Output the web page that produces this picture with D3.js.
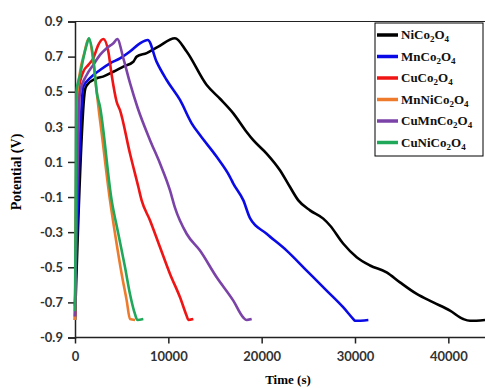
<!DOCTYPE html>
<html>
<head>
<meta charset="utf-8">
<style>
body { margin: 0; background: #fff; }
</style>
</head>
<body></body>
<script src="https://d3js.org/d3.v7.min.js"></script>
<script>

// [time (s), potential (V)]
var niCo2O4 = [[0,-0.80],[1070,0.51],[1250,0.535],[2320,0.577],[3000,0.586],[4110,0.614],[5180,0.643],[6250,0.671],[6610,0.70],[7680,0.72],[8930,0.757],[10710,0.805],[11960,0.729],[14110,0.538],[15540,0.46],[16960,0.377],[18390,0.271],[19100,0.224],[20530,0.148],[21960,0.053],[23040,-0.043],[23930,-0.119],[25180,-0.176],[26600,-0.223],[27320,-0.262],[28750,-0.366],[30180,-0.443],[31610,-0.49],[33390,-0.529],[34820,-0.586],[36610,-0.652],[38390,-0.70],[40180,-0.747],[41600,-0.795],[42320,-0.805],[43930,-0.80]];
var mnCo2O4 = [[0,-0.72],[890,0.529],[1600,0.577],[2680,0.624],[3750,0.662],[4820,0.69],[5890,0.729],[6960,0.776],[7800,0.795],[8750,0.67],[9820,0.567],[11250,0.453],[12500,0.32],[13390,0.253],[15180,0.129],[16610,0.014],[16960,-0.023],[18040,-0.119],[18750,-0.22],[20530,-0.309],[22680,-0.405],[24820,-0.519],[26960,-0.633],[28750,-0.729],[29820,-0.795],[30000,-0.805],[31430,-0.80]];
var cuCo2O4 = [[0,-0.78],[360,0.5],[890,0.614],[1430,0.653],[1960,0.69],[2500,0.767],[3040,0.80],[3570,0.729],[3930,0.595],[4460,0.443],[4820,0.395],[5890,0.148],[6790,-0.043],[7140,-0.119],[8040,-0.233],[9110,-0.386],[10180,-0.538],[11250,-0.671],[11960,-0.776],[12140,-0.80],[12680,-0.795]];
var mnNiCo2O4 = [[0,-0.80],[200,0.45],[500,0.6],[1000,0.72],[1430,0.80],[2680,0.338],[3750,-0.119],[4290,-0.309],[5000,-0.538],[5540,-0.69],[5890,-0.795],[6430,-0.80]];
var cuMnCo2O4 = [[0,-0.78],[540,0.5],[1250,0.595],[1960,0.653],[2680,0.71],[3390,0.748],[4110,0.776],[4530,0.80],[5180,0.69],[5890,0.55],[6700,0.41],[8040,0.224],[9110,0.091],[10180,-0.062],[10710,-0.16],[11960,-0.309],[13390,-0.405],[15180,-0.557],[16960,-0.69],[18030,-0.786],[18390,-0.80],[18930,-0.795]];
var cuNiCo2O4 = [[0,-0.75],[150,0.5],[540,0.595],[890,0.69],[1250,0.767],[1500,0.805],[1960,0.69],[2320,0.5],[2680,0.414],[3930,-0.119],[4640,-0.309],[5360,-0.5],[5890,-0.652],[6430,-0.767],[6680,-0.80],[7320,-0.795]];

var names = [["NiCo","2","O","4"],["MnCo","2","O","4"],["CuCo","2","O","4"],["MnNiCo","2","O","4"],["CuMnCo","2","O","4"],["CuNiCo","2","O","4"]];
var seriesData = [niCo2O4, mnCo2O4, cuCo2O4, mnNiCo2O4, cuMnCo2O4, cuNiCo2O4];
var colors = ["#000000", "#0a0ae6", "#f01414", "#ee7b2c", "#7b43a8", "#1fa85a"];

var xTicks = [0, 10000, 20000, 30000, 40000];
var yTicks = [-0.9, -0.7, -0.5, -0.3, -0.1, 0.1, 0.3, 0.5, 0.7, 0.9];

var width = 485, height = 388;

var x = d3.scaleLinear().domain([0, 45000]).range([75, 495]);
var y = d3.scaleLinear().domain([-0.9, 0.9]).range([337.5, 21.5]);

var svg = d3.select("body").append("svg")
	.attr("width", width)
	.attr("height", height);

// top frame
svg.append("line")
	.attr("x1", x(0)).attr("x2", width)
	.attr("y1", y(0.9)).attr("y2", y(0.9))
	.attr("stroke", "#222").attr("stroke-width", 1.2);

var xAxis = svg.append("g")
	.attr("transform", "translate(0," + y(-0.9) + ")")
	.call(d3.axisBottom(x).tickValues(xTicks).tickSize(6).tickPadding(8).tickFormat(d3.format("d")));

var yAxis = svg.append("g")
	.attr("transform", "translate(" + x(0) + ",0)")
	.call(d3.axisLeft(y).tickValues(yTicks).tickSize(7).tickPadding(5)
		.tickFormat(d => d3.format(".1f")(d).replace("\u2212", "-")));

[xAxis, yAxis].forEach(g => {
	g.select(".domain").attr("stroke", "#222").attr("stroke-width", 1.5);
	g.selectAll(".tick line").attr("stroke", "#222").attr("stroke-width", 1.5);
	g.selectAll(".tick text")
		.attr("fill", "#333")
		.attr("font-family", "Lato, sans-serif")
		.attr("font-weight", "bold")
		.attr("font-size", 13);
});
xAxis.select(".domain").attr("d", "M" + x(0) + ",0H" + width);

var line = d3.line()
	.x(d => x(d[0]))
	.y(d => y(d[1]))
	.curve(d3.curveMonotoneX);

svg.append("g").selectAll("path")
	.data(seriesData)
  .enter().append("path")
	.attr("d", line)
	.attr("fill", "none")
	.attr("stroke", (d, i) => colors[i])
	.attr("stroke-width", 2.6)
	.attr("stroke-linejoin", "round");

// axis titles
svg.append("text")
	.attr("transform", "translate(21,172) rotate(-90)")
	.attr("text-anchor", "middle")
	.attr("font-family", "Liberation Serif, serif")
	.attr("font-weight", "bold")
	.attr("font-size", 14)
	.text("Potential (V)");

svg.append("text")
	.attr("x", 288)
	.attr("y", 384)
	.attr("text-anchor", "middle")
	.attr("font-family", "Liberation Serif, serif")
	.attr("font-weight", "bold")
	.attr("font-size", 13)
	.text("Time (s)");

// legend
var legend = svg.append("g");
legend.append("rect")
	.attr("x", 375).attr("y", 23)
	.attr("width", 108).attr("height", 133)
	.attr("fill", "#fff")
	.attr("stroke", "#000")
	.attr("stroke-width", 1);

var rows = legend.selectAll("g.row")
	.data(names)
  .enter().append("g")
	.attr("class", "row")
	.attr("transform", (d, i) => "translate(0," + (35 + i * 21.5) + ")");

rows.append("line")
	.attr("x1", 377).attr("x2", 398)
	.attr("y1", 0).attr("y2", 0)
	.attr("stroke", (d, i) => colors[i])
	.attr("stroke-width", 3.5);

var lt = rows.append("text")
	.attr("x", 401)
	.attr("y", 4)
	.attr("font-family", "Liberation Serif, serif")
	.attr("font-weight", "bold")
	.attr("font-size", 13)
	.attr("fill", "#111");

lt.append("tspan").text(d => d[0]);
lt.append("tspan").attr("font-size", 9).attr("dy", 3).text(d => d[1]);
lt.append("tspan").attr("dy", -3).text(d => d[2]);
lt.append("tspan").attr("font-size", 9).attr("dy", 3).text(d => d[3]);

</script>
</html>
